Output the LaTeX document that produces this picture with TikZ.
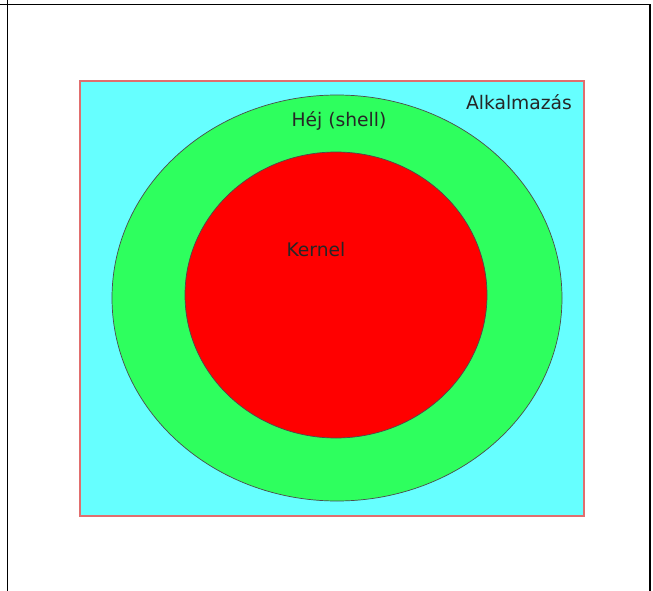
\documentclass[tikz,border=0pt]{standalone}
\usepackage{fontspec}
\setmainfont{DejaVu Sans}
\definecolor{appcyan}{RGB}{102,255,255}
\definecolor{shellgreen}{RGB}{46,255,94}
\definecolor{rimred}{RGB}{225,110,110}
\begin{document}
\begin{tikzpicture}[x=1pt,y=-1pt]
    \useasboundingbox (0,0) rectangle (653,591);
    % frame
    \draw[line width=1.6pt] (7.5,0) -- (7.5,591);
    \draw[line width=1.6pt] (0,4.5) -- (650,4.5) -- (650,591);
    % layers
    \draw[rimred, fill=appcyan, line width=1.2pt] (80,81) rectangle (584,516);
    \draw[gray!60!black, fill=shellgreen, line width=0.7pt] (337,298) ellipse (225 and 203);
    \draw[gray!60!black, fill=red, line width=0.7pt] (336,295) ellipse (151 and 143);
    \node[font=\fontsize{18.7}{22}\selectfont, text=black!85] (app) at (519,102) {Alkalmazás};
    \node[font=\fontsize{18.7}{22}\selectfont, text=black!85] (shell) at (339,121) {Héj (shell)};
    \node[font=\fontsize{18.7}{22}\selectfont, text=black!85] (kernel) at (316,250) {Kernel};
\end{tikzpicture}
\end{document}
